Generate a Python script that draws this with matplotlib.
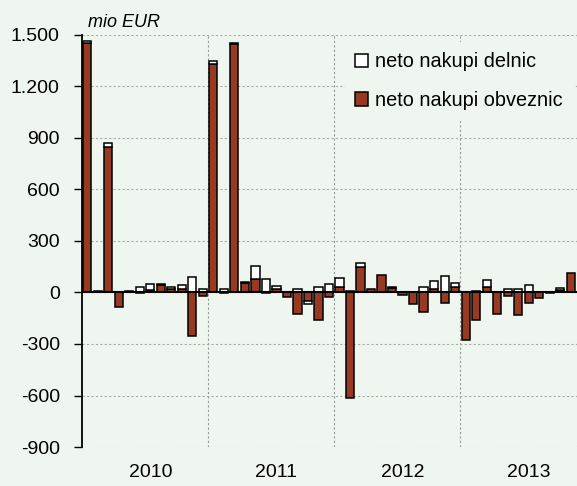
import numpy as np
import matplotlib.pyplot as plt
from matplotlib.ticker import FuncFormatter

plt.rcParams['font.family'] = ['Liberation Sans', 'DejaVu Sans']

years = ["2010", "2011", "2012", "2013"]
# monthly, Jan 2010 - Nov 2013
bonds = [1450, 5, 850, -85, 10, -5, 12, 45, 18, 18, -255, -18,
         1328, -5, 1445, 56, 80, -5, 23, -29, -123, -49, -158, -29,
         33, -615, 146, 23, 101, 25, -12, -68, -113, 23, -64, 29,
         -278, -158, 33, -123, -18, -134, -60, -31, -5, 15, 111]
stocks = [12, 3, 20, 0, 0, 33, 35, 3, 12, 23, 88, 21,
          20, 20, 10, 3, 75, 76, 12, 0, 23, -16, 29, 49,
          53, 10, 23, 0, 0, 5, 3, 5, 33, 45, 97, 27,
          3, 8, 39, 3, 23, 23, 41, 3, 5, 10, 0]

bg = '#eff6ef'
red = '#963a22'

bonds = np.array(bonds)
stocks = np.array(stocks)
x = np.arange(len(bonds))
# stack by sign like excel
stock_bottom = np.where(np.sign(stocks) == np.sign(bonds), bonds, 0)

fig = plt.figure(figsize=(5.77, 4.86), dpi=100, facecolor=bg)
ax = fig.add_axes([0.1421, 0.0802, 0.858, 0.848], facecolor=bg)

ax.bar(x, bonds, width=0.78, color=red, edgecolor='black', linewidth=1.1,
       label='neto nakupi obveznic', zorder=3)
ax.bar(x, stocks, bottom=stock_bottom, width=0.78, color='white', edgecolor='black',
       linewidth=1.1, label='neto nakupi delnic', zorder=3)

ax.axhline(0, color='black', linewidth=1.5, zorder=4)
for k in range(1, len(years)):
    ax.axvline(12 * k - 0.5, color='#999999', linestyle=(0, (2, 2)), linewidth=0.8, zorder=1)

ax.set_xlim(-0.5, 46.6)
ax.set_ylim(-900, 1500)
ax.set_yticks(np.arange(-900, 1501, 300))
ax.yaxis.set_major_formatter(FuncFormatter(lambda v, p: f"{int(v):,}".replace(",", ".")))
ax.grid(axis='y', color='#aaaaaa', linestyle=(0, (2, 2)), linewidth=0.8, zorder=0)
ax.tick_params(axis='y', labelsize=14, length=6, width=1, direction='out', pad=10)
ax.set_xticks([6, 18, 30, 42])
ax.set_xticklabels(years)
ax.tick_params(axis='x', labelsize=14, length=0, pad=12)

for s in ['top', 'right', 'bottom']:
    ax.spines[s].set_visible(False)
ax.spines['left'].set_linewidth(1.3)

fig.text(0.1525, 0.953, 'mio EUR', fontsize=13, style='italic', va='center')

h, l = ax.get_legend_handles_labels()
leg = ax.legend(h[::-1], l[::-1], loc='upper left', bbox_to_anchor=(0.531, 0.982),
                borderaxespad=0, fontsize=14.3, frameon=True, facecolor=bg, edgecolor=bg,
                framealpha=1, fancybox=False, handlelength=0.67, handleheight=0.67,
                handletextpad=0.36, labelspacing=1.0, borderpad=0.5)
leg.set_zorder(5)

fig.savefig('out.png', dpi=100, facecolor=bg)
